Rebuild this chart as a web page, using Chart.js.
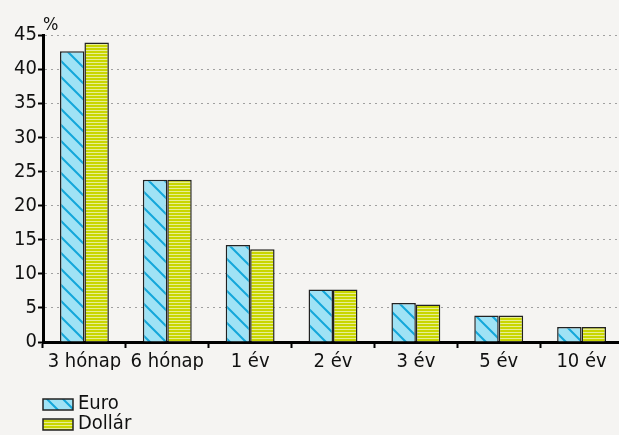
<!DOCTYPE html>
<html>
<head>
<meta charset="utf-8">
<script src="https://cdn.jsdelivr.net/npm/chart.js@4"></script>
<style>
  html, body { margin: 0; padding: 0; background: #f5f4f2; overflow: hidden; }
  #chart { display: block; }
</style>
</head>
<body>
<canvas id="chart" width="623" height="435"></canvas>
<script>
const categories = ["3 hónap", "6 hónap", "1 év", "2 év", "3 év", "5 év", "10 év"];
const euroValues = [42.6, 23.8, 14.2, 7.7, 5.7, 3.9, 2.2];
const dollarValues = [43.9, 23.8, 13.6, 7.7, 5.5, 3.9, 2.2];
const seriesNames = ["Euro", "Dollár"];
const yTicks = [0, 5, 10, 15, 20, 25, 30, 35, 40, 45];

const FONT = "'DejaVu Sans Condensed', 'DejaVu Sans', sans-serif";

function makeHatch() {
  const c = document.createElement("canvas");
  c.width = 16; c.height = 16;
  const g = c.getContext("2d");
  g.fillStyle = "#9fe2f5";
  g.fillRect(0, 0, 16, 16);
  g.strokeStyle = "#14a7da";
  g.lineWidth = 2;
  g.beginPath();
  g.moveTo(-4, -4); g.lineTo(20, 20);
  g.moveTo(-20, -4); g.lineTo(4, 20);
  g.moveTo(12, -4); g.lineTo(36, 20);
  g.stroke();
  return g.createPattern(c, "repeat");
}

function makeStripes() {
  const c = document.createElement("canvas");
  c.width = 4; c.height = 3;
  const g = c.getContext("2d");
  g.fillStyle = "#c9d600";
  g.fillRect(0, 0, 4, 3);
  g.fillStyle = "#e7ee94";
  g.fillRect(0, 2, 4, 1);
  return g.createPattern(c, "repeat");
}

const euroFill = makeHatch();
const dollarFill = makeStripes();

// "%" label and the two-row legend under the axis
const extras = {
  id: "extras",
  afterDraw(chart) {
    const ctx = chart.ctx;
    ctx.save();
    ctx.fillStyle = "#111";
    ctx.font = "18px " + FONT;
    ctx.textBaseline = "middle";
    ctx.textAlign = "left";
    ctx.fillText("%", 43, 25);

    const fills = [euroFill, dollarFill];
    const rows = [404, 424];
    ctx.font = "20px " + FONT;
    seriesNames.forEach((name, i) => {
      ctx.fillStyle = fills[i];
      ctx.fillRect(43, rows[i] - 5, 30, 11);
      ctx.strokeStyle = "#222";
      ctx.lineWidth = 1.5;
      ctx.strokeRect(43, rows[i] - 5, 30, 11);
      ctx.fillStyle = "#111";
      ctx.fillText(name, 78, rows[i]);
    });
    ctx.restore();
  }
};

new Chart(document.getElementById("chart"), {
  type: "bar",
  data: {
    labels: categories,
    datasets: [
      {
        label: seriesNames[0],
        data: euroValues,
        backgroundColor: euroFill,
        borderColor: "#222",
        borderWidth: 1.5
      },
      {
        label: seriesNames[1],
        data: dollarValues,
        backgroundColor: dollarFill,
        borderColor: "#222",
        borderWidth: 1.5
      }
    ]
  },
  options: {
    responsive: false,
    animation: false,
    datasets: { bar: { barPercentage: 1, categoryPercentage: 0.59 } },
    layout: { padding: { top: 35, right: 0, bottom: 65, left: 0 } },
    plugins: {
      legend: { display: false },
      tooltip: { enabled: false }
    },
    scales: {
      x: {
        offset: true,
        afterFit: (s) => { s.height = 28; },
        border: { color: "#000", width: 3 },
        grid: {
          offset: true,
          drawOnChartArea: false,
          tickLength: 6,
          tickColor: "#000",
          tickWidth: 2
        },
        ticks: {
          color: "#111",
          font: { family: FONT, size: 20 },
          padding: 2,
          maxRotation: 0,
          autoSkip: false
        }
      },
      y: {
        min: 0,
        max: 45,
        afterFit: (s) => { s.width = 43; },
        afterBuildTicks: (s) => { s.ticks = yTicks.map((v) => ({ value: v })); },
        border: { color: "#000", width: 3, dash: [2, 4] },
        grid: {
          color: "#a0a0a0",
          lineWidth: 1,
          tickColor: "#000",
          tickWidth: 2,
          tickLength: 5,
          tickBorderDash: []
        },
        ticks: {
          color: "#111",
          font: { family: FONT, size: 20 },
          padding: 1
        }
      }
    }
  },
  plugins: [extras]
});
</script>
</body>
</html>
